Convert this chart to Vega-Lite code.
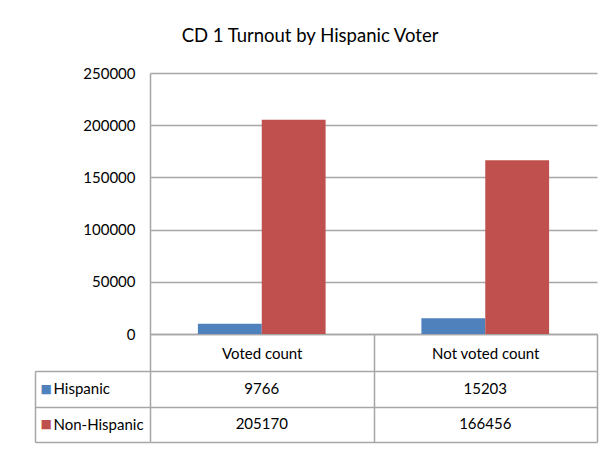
{
  "$schema": "https://vega.github.io/schema/vega-lite/v6.json",
  "padding": {"left": 34, "top": 26, "right": 12, "bottom": 8},
  "background": "#ffffff",
  "title": {"text": "CD 1 Turnout by Hispanic Voter", "font": "Lato", "fontSize": 18.5, "fontWeight": "normal", "color": "#000000", "anchor": "middle", "offset": 21, "dx": -6},
  "datasets": {
    "turnout": [
      {"category": "Voted count", "group": "Hispanic", "count": 9766},
      {"category": "Voted count", "group": "Non-Hispanic", "count": 205170},
      {"category": "Not voted count", "group": "Hispanic", "count": 15203},
      {"category": "Not voted count", "group": "Non-Hispanic", "count": 166456}
    ]
  },
  "bounds": "flush",
  "spacing": 37,
  "vconcat": [
    {
      "width": 447,
      "height": 261,
      "data": {"name": "turnout"},
      "mark": {"type": "bar"},
      "encoding": {
        "x": {
          "field": "category", "type": "nominal",
          "sort": ["Voted count", "Not voted count"],
          "scale": {"paddingInner": 0, "paddingOuter": 0},
          "axis": {
            "title": null, "labelAngle": 0, "tickBand": "extent", "ticks": true, "tickSize": 37,
            "tickColor": "#a6a6a6", "tickWidth": 1.5, "domain": true, "domainColor": "#a6a6a6", "domainWidth": 1.5,
            "labelPadding": -18, "labelBaseline": "middle", "labelFontSize": 15, "labelColor": "#000000",
            "minExtent": 37, "maxExtent": 37, "grid": false
          }
        },
        "xOffset": {
          "field": "group", "type": "nominal",
          "sort": ["Hispanic", "Non-Hispanic"],
          "scale": {"paddingInner": 0, "paddingOuter": 0.75}
        },
        "y": {
          "field": "count", "type": "quantitative",
          "scale": {"domain": [0, 250000], "nice": false},
          "axis": {
            "title": null, "values": [0, 50000, 100000, 150000, 200000, 250000], "format": "d",
            "ticks": false, "labelPadding": 15, "labelFontSize": 15, "labelColor": "#000000",
            "grid": true, "gridColor": "#a6a6a6", "gridWidth": 1.5,
            "domain": true, "domainColor": "#a6a6a6", "domainWidth": 1.5, "minExtent": 115
          }
        },
        "color": {
          "field": "group", "type": "nominal",
          "scale": {"domain": ["Hispanic", "Non-Hispanic"], "range": ["#4f81bd", "#c0504d"]},
          "legend": null
        }
      }
    },
    {
      "width": 447,
      "height": 71,
      "data": {"name": "turnout"},
      "layer": [
        {
          "mark": {"type": "text", "fontSize": 15, "color": "#000000"},
          "encoding": {
            "x": {
              "field": "category", "type": "nominal",
              "sort": ["Voted count", "Not voted count"],
              "scale": {"paddingInner": 0, "paddingOuter": 0},
              "axis": {
                "title": null, "labels": false, "ticks": false, "domain": false,
                "grid": true, "tickBand": "extent", "gridColor": "#a6a6a6", "gridWidth": 1.5
              }
            },
            "y": {
              "field": "group", "type": "nominal",
              "sort": ["Hispanic", "Non-Hispanic"],
              "scale": {"paddingInner": 0, "paddingOuter": 0},
              "axis": {
                "title": null, "orient": "left", "domain": false,
                "ticks": true, "tickBand": "extent", "tickSize": 115, "tickColor": "#a6a6a6", "tickWidth": 1.5,
                "grid": true, "gridColor": "#a6a6a6", "gridWidth": 1.5,
                "labelAlign": "left", "labelPadding": -18, "labelFontSize": 15, "labelColor": "#000000", "labelBaseline": "middle"
              }
            },
            "text": {"field": "count", "type": "quantitative", "format": "d"}
          }
        },
        {
          "mark": {"type": "text", "opacity": 0},
          "encoding": {
            "y": {
              "field": "group", "type": "nominal",
              "sort": ["Hispanic", "Non-Hispanic"],
              "scale": {"paddingInner": 0, "paddingOuter": 0},
              "axis": {
                "title": null, "orient": "left", "offset": 115, "domain": true, "domainColor": "#a6a6a6", "domainWidth": 1.5,
                "ticks": false, "grid": false,
                "labelExpr": "'■'", "labelFont": "DejaVu Sans", "labelFontSize": 12,
                "labelColor": {"condition": {"test": "datum.value === 'Hispanic'", "value": "#4f81bd"}, "value": "#c0504d"},
                "labelAlign": "left", "labelPadding": -5, "labelBaseline": "middle"
              }
            },
            "text": {"value": ""}
          }
        }
      ],
      "resolve": {"axis": {"y": "independent"}}
    }
  ],
  "config": {
    "font": "Lato",
    "view": {"stroke": null}
  }
}
